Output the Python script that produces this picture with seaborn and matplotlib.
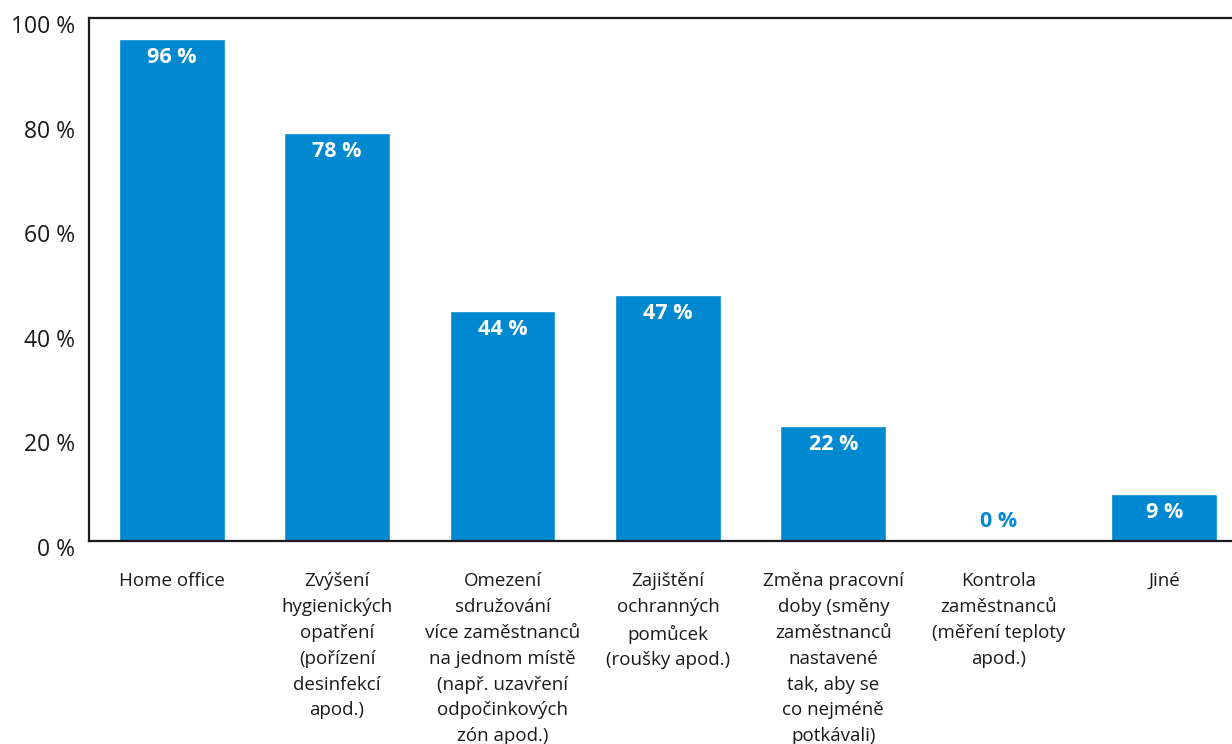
import matplotlib
matplotlib.use("Agg")
import matplotlib.pyplot as plt
import matplotlib.transforms as mtransforms
import seaborn as sns
import pandas as pd

categories = [
    "Home office",
    "Zvýšení\nhygienických\nopatření\n(pořízení\ndesinfekcí\napod.)",
    "Omezení\nsdružování\nvíce zaměstnanců\nna jednom místě\n(např. uzavření\nodpočinkových\nzón apod.)",
    "Zajištění\nochranných\npomůcek\n(roušky apod.)",
    "Změna pracovní\ndoby (směny\nzaměstnanců\nnastavené\ntak, aby se\nco nejméně\npotkávali)",
    "Kontrola\nzaměstnanců\n(měření teploty\napod.)",
    "Jiné",
]
values = [96, 78, 44, 47, 22, 0, 9]
yticks = [0, 20, 40, 60, 80, 100]
ytick_labels = ["0 %", "20 %", "40 %", "60 %", "80 %", "100 %"]

BLUE = "#0089D1"

sns.set_theme(style="white")
plt.rcParams["font.family"] = ["Open Sans", "DejaVu Sans"]

fig = plt.figure(figsize=(12.32, 7.44), dpi=100)
ax = fig.add_axes([89 / 1232, (744 - 541) / 744, 1 - 89 / 1232, (541 - 18) / 744])

df = pd.DataFrame({"cat": categories, "val": values})
sns.barplot(data=df, x="cat", y="val", color=BLUE, saturation=1, width=0.64, ax=ax)

ax.set_ylim(0, 100)
ax.set_xlim(-0.5, 6.41)
ax.set_yticks(yticks)
ax.set_yticklabels(ytick_labels, fontsize=16.5, color="#1a1a1a")
ax.set_xlabel("")
ax.set_ylabel("")
ax.set_xticks(range(len(categories)))
ax.set_xticklabels(categories, fontsize=13.5, color="#1a1a1a", linespacing=1.56, va="top")
ax.tick_params(axis="both", length=0)
ax.tick_params(axis="x", pad=22.5)
ax.tick_params(axis="y", pad=10)

shift = mtransforms.ScaledTranslation(0, -6 / 100, fig.dpi_scale_trans)
for lbl in ax.get_yticklabels():
    lbl.set_transform(lbl.get_transform() + shift)

for side in ["left", "bottom", "top"]:
    ax.spines[side].set_visible(True)
    ax.spines[side].set_color("#1a1a1a")
    ax.spines[side].set_linewidth(1.6)
ax.spines["right"].set_visible(False)

for i, v in enumerate(values):
    if v > 0:
        ax.annotate(f"{v} %", (i, v), xytext=(0, -13.5), textcoords="offset points",
                    ha="center", va="center", color="white", fontsize=15.5, fontweight="bold")
    else:
        ax.annotate(f"{v} %", (i, v), xytext=(0, 14), textcoords="offset points",
                    ha="center", va="center", color=BLUE, fontsize=15.5, fontweight="bold")

fig.savefig("out.png", dpi=100)
